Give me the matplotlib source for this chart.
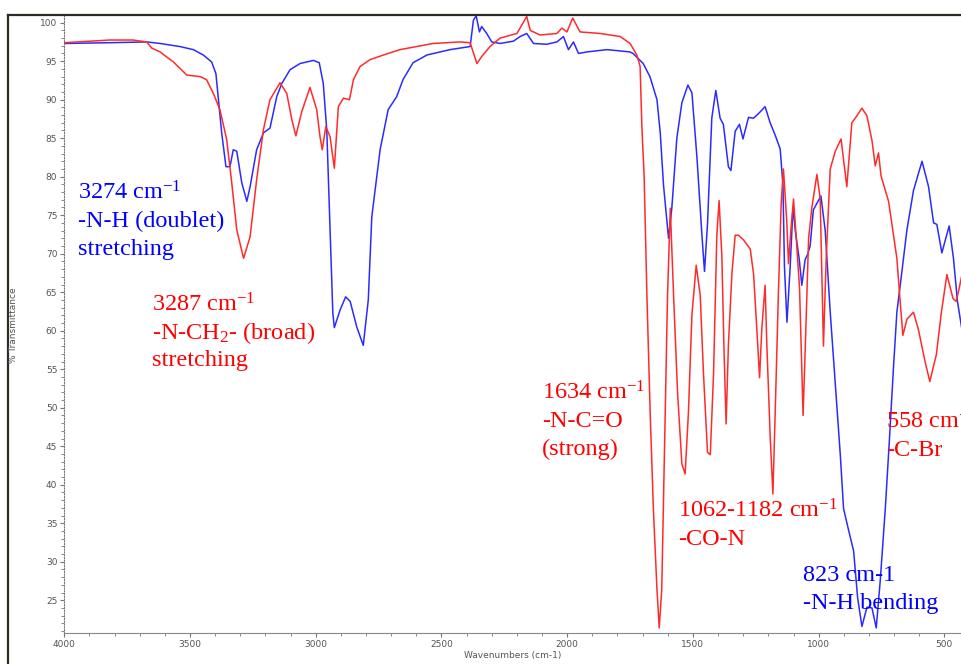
import matplotlib
matplotlib.use("Agg")
import matplotlib.pyplot as plt
from matplotlib.lines import Line2D
from matplotlib.ticker import MultipleLocator

# FT-IR spectra (wavenumber in cm-1, % transmittance)
blue_wn = [4000, 3818, 3672, 3619, 3540, 3487, 3447, 3414, 3397, 3387, 3374, 3357, 3341,
           3328, 3314, 3294, 3274, 3261, 3235, 3208, 3182, 3155, 3135, 3102, 3062, 3009,
           2986, 2970, 2956, 2943, 2932, 2926, 2903, 2881, 2863, 2837, 2811, 2791, 2777,
           2744, 2712, 2678, 2653, 2613, 2558, 2466, 2386, 2373, 2362, 2349, 2340, 2320,
           2300, 2267, 2214, 2187, 2161, 2134, 2081, 2041, 2015, 1995, 1975, 1955, 1922,
           1842, 1750, 1738, 1698, 1671, 1643, 1630, 1617, 1597, 1584, 1564, 1544, 1520,
           1504, 1484, 1464, 1454, 1442, 1425, 1409, 1392, 1379, 1359, 1349, 1332, 1315,
           1301, 1279, 1259, 1239, 1213, 1193, 1173, 1153, 1142, 1136, 1126, 1113, 1102,
           1093, 1077, 1067, 1054, 1044, 1034, 1021, 991, 974, 954, 934, 914, 901, 881,
           861, 845, 828, 808, 788, 771, 755, 735, 718, 702, 689, 673, 649, 623, 589, 563,
           543, 530, 510, 497, 481, 464, 448, 430]
blue_t = [97.3, 97.4, 97.5, 97.3, 96.9, 96.5, 95.8, 94.9, 93.4, 90.0, 85.7, 81.3, 81.3,
          83.5, 83.3, 79.2, 76.8, 78.7, 83.5, 85.7, 86.3, 90.4, 92.1, 93.9, 94.7, 95.1,
          94.8, 92.1, 86.0, 73.0, 62.3, 60.4, 62.7, 64.4, 63.8, 60.5, 58.1, 64.0, 74.8,
          83.5, 88.7, 90.4, 92.6, 94.8, 95.8, 96.5, 96.9, 100.3, 100.9, 98.8, 99.5, 98.6,
          97.5, 97.3, 97.6, 98.2, 98.6, 97.3, 97.2, 97.5, 98.2, 96.5, 97.5, 96.0, 96.2,
          96.5, 96.2, 96.0, 94.7, 93.0, 90.0, 85.7, 78.9, 72.0, 75.9, 85.0, 89.6, 91.9,
          90.9, 82.5, 72.3, 67.7, 73.9, 87.6, 91.2, 87.6, 86.8, 81.3, 80.8, 85.9, 86.8,
          84.9, 87.7, 87.6, 88.2, 89.1, 87.0, 85.4, 83.6, 78.9, 68.3, 61.1, 68.5, 76.1,
          73.0, 69.2, 65.9, 69.2, 69.9, 71.0, 75.7, 77.5, 73.0, 62.4, 53.1, 43.9, 36.9, 34.1,
          31.4, 25.3, 21.6, 24.1, 24.0, 21.4, 27.6, 36.9, 46.2, 55.5, 62.4, 66.6, 73.1, 78.2, 82.0, 78.7,
          74.0, 73.8, 70.1, 71.7, 73.6, 69.4, 63.8, 60.1]

red_wn = [4000, 3818, 3727, 3672, 3652, 3619, 3566, 3513, 3460, 3434, 3407, 3381, 3354,
          3334, 3314, 3287, 3261, 3235, 3208, 3182, 3142, 3115, 3095, 3079, 3056, 3023,
          2996, 2983, 2974, 2960, 2943, 2926, 2910, 2890, 2866, 2850, 2824, 2784, 2731,
          2665, 2533, 2426, 2386, 2359, 2340, 2307, 2267, 2200, 2161, 2147, 2108, 2041,
          2021, 2001, 1978, 1949, 1869, 1789, 1750, 1723, 1710, 1703, 1694, 1683, 1670,
          1657, 1643, 1634, 1624, 1610, 1601, 1590, 1577, 1561, 1544, 1531, 1518, 1504,
          1487, 1471, 1458, 1442, 1431, 1418, 1405, 1396, 1385, 1376, 1368, 1359, 1345,
          1332, 1319, 1299, 1272, 1259, 1246, 1235, 1226, 1213, 1206, 1193, 1182, 1173,
          1160, 1149, 1140, 1127, 1120, 1110, 1100, 1089, 1076, 1062, 1053, 1040, 1027,
          1007, 994, 987, 981, 970, 954, 934, 911, 888, 868, 848, 828, 808, 788, 775, 762,
          752, 722, 689, 676, 665, 649, 623, 603, 577, 558, 532, 512, 490, 466, 453, 440, 430]
red_t = [97.4, 97.75, 97.75, 97.5, 96.7, 96.2, 94.9, 93.2, 93.0, 92.6, 90.8, 88.7, 84.8,
         79.2, 73.1, 69.4, 72.2, 79.6, 86.1, 90.0, 92.2, 90.8, 87.4, 85.3, 88.4, 91.6,
         88.7, 85.2, 83.5, 86.5, 85.2, 81.1, 89.1, 90.2, 90.0, 92.6, 94.3, 95.2, 95.8,
         96.5, 97.3, 97.5, 97.4, 94.7, 95.6, 96.9, 98.0, 98.6, 100.8, 99.0, 98.4, 98.6,
         99.3, 98.8, 100.6, 98.8, 98.6, 98.2, 97.3, 95.8, 94.3, 86.5, 80.0, 64.6, 49.3,
         36.6, 26.4, 21.4, 26.4, 49.3, 64.6, 75.9, 64.6, 51.9, 42.7, 41.4, 49.3, 62.1,
         68.5, 64.6, 54.4, 44.2, 43.9, 54.4, 72.3, 76.9, 69.7, 57.0, 47.9, 58.1, 67.4,
         72.4, 72.4, 71.8, 70.6, 67.4, 60.3, 53.9, 60.3, 65.9, 58.1, 46.4, 38.8, 49.2,
         65.0, 76.6, 81.0, 74.3, 68.7, 73.3, 77.1, 72.0, 65.5, 49.0, 58.1, 72.0, 76.0,
         80.3, 77.2, 67.1, 58.0, 69.4, 81.0, 83.3, 84.9, 78.7, 87.0, 87.9, 88.9, 87.9, 84.7, 81.4, 83.1,
         80.1, 76.8, 69.4, 63.8, 59.4, 61.5, 62.4, 60.1, 56.0, 53.4, 56.9, 62.4, 67.3, 64.2, 63.8, 65.7, 67.3]

# annotation texts: (lines, colour, left x in cm-1, first-line y in %T)
notes = [
    (["3274 cm$^{-1}$", "-N-H (doublet)", "stretching"], "blue", 3945, 77.9),
    (["3287 cm$^{-1}$", "-N-CH$_2$- (broad)", "stretching"], "red", 3650, 63.4),
    (["1634 cm$^{-1}$", "-N-C=O", "(strong)"], "red", 2100, 51.9),
    (["1062-1182 cm$^{-1}$", "-CO-N"], "red", 1559, 36.6),
    (["823 cm-1", "-N-H bending"], "blue", 1061, 28.2),
    (["558 cm$^{-1}$", "-C-Br"], "red", 731, 48.1),
]

plt.rcParams["mathtext.fontset"] = "custom"
plt.rcParams["mathtext.rm"] = "Liberation Serif"
plt.rcParams["mathtext.it"] = "Liberation Serif"

fig = plt.figure(figsize=(9.62, 6.64), dpi=100)
ax = fig.add_axes([0.0668, 0.0471, 0.9332, 0.9308])

ax.plot(blue_wn, blue_t, color="#2b2bff", lw=1.1)
ax.plot(red_wn, red_t, color="#ff2b2b", lw=1.1)

ax.set_xlim(4000, 430)
ax.set_ylim(20.78, 101.04)
ax.xaxis.set_major_locator(MultipleLocator(500))
ax.xaxis.set_minor_locator(MultipleLocator(100))
ax.yaxis.set_major_locator(MultipleLocator(5))
ax.yaxis.set_minor_locator(MultipleLocator(1))
ax.set_yticks(range(25, 101, 5))
ax.tick_params(axis="both", which="major", labelsize=6.5, labelcolor="#555555",
               color="#777777", length=3, width=0.8, pad=2)
ax.tick_params(axis="both", which="minor", color="#888888", length=2, width=0.7)

for side in ["top", "right"]:
    ax.spines[side].set_visible(False)
ax.spines["left"].set_linestyle((0, (1, 1.5)))
ax.spines["left"].set_color("#777777")
ax.spines["bottom"].set_color("#888888")
ax.spines["bottom"].set_linewidth(0.8)

for lines, col, x0, y0 in notes:
    for i, line in enumerate(lines):
        ax.text(x0, y0 - i * 3.65, line, color=col, fontsize=17.5,
                family="Liberation Serif", va="center", ha="left", clip_on=False)

fig.text(513 / 962, 0.006, "Wavenumbers (cm-1)", fontsize=6.5, color="#555555",
         ha="center", va="bottom")
fig.text(14 / 962, 0.51, "% Transmittance", fontsize=6.5, color="#555555",
         rotation=90, ha="center", va="center")

# window frame
fig.add_artist(Line2D([8 / 962, 1.0], [1 - 14.7 / 664, 1 - 14.7 / 664],
                      transform=fig.transFigure, color="#2e2a24", lw=1.6))
fig.add_artist(Line2D([8 / 962, 8 / 962], [0, 1 - 14.7 / 664],
                      transform=fig.transFigure, color="#2e2a24", lw=1.6))

fig.savefig("out.png", dpi=100)
